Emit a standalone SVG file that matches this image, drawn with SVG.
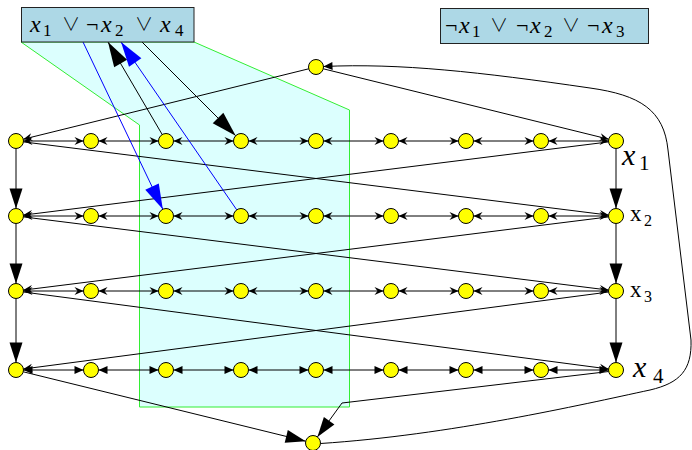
<svg xmlns="http://www.w3.org/2000/svg" width="692" height="450" viewBox="0 0 692 450">
<style>
.e{fill:none;stroke:#000;stroke-width:1}
.ch path{fill:none;stroke:#000;stroke-width:1;marker-start:url(#sm);marker-end:url(#sm)}
.ch4 path{fill:none;stroke:#000;stroke-width:1;marker-start:url(#tri);marker-end:url(#tri)}
.v{fill:none;stroke:#000;stroke-width:1;marker-end:url(#big)}
.x{fill:none;stroke:#000;stroke-width:1;marker-end:url(#sm)}
.b{fill:none;stroke:#00f;stroke-width:1;marker-end:url(#hugeb)}
.k{fill:none;stroke:#000;stroke-width:1;marker-end:url(#huge)}
.n{fill:#ff0;stroke:#000;stroke-width:1}
.box{fill:#add8e6;stroke:#222;stroke-width:1}
text{font-family:"Liberation Serif","DejaVu Serif",serif;fill:#000}
.i{font-style:italic}
.op{font-family:"Noto Sans CJK JP","DejaVu Sans",sans-serif;font-weight:300}
</style>
<defs>
<marker id="sm" markerUnits="userSpaceOnUse" markerWidth="11" markerHeight="10" refX="9" refY="4" orient="auto-start-reverse" overflow="visible"><path d="M0,0 L9,4 L0,8 L3,4 z" fill="#000"/></marker>
<marker id="tri" markerUnits="userSpaceOnUse" markerWidth="10" markerHeight="9" refX="9" refY="4" orient="auto-start-reverse" overflow="visible"><path d="M0,0 L9,4 L0,8 z" fill="#000"/></marker>
<marker id="big" markerUnits="userSpaceOnUse" markerWidth="20" markerHeight="13" refX="20" refY="6.5" orient="auto" overflow="visible"><path d="M0,0 L20,6.5 L0,13 z" fill="#000"/></marker>
<marker id="huge" markerUnits="userSpaceOnUse" markerWidth="25" markerHeight="15" refX="25" refY="7.5" orient="auto" overflow="visible"><path d="M0,0 L25,7.5 L0,15 z" fill="#000"/></marker>
<marker id="hugeb" markerUnits="userSpaceOnUse" markerWidth="25" markerHeight="15" refX="25" refY="7.5" orient="auto" overflow="visible"><path d="M0,0 L25,7.5 L0,15 z" fill="#00f"/></marker>
</defs>
<rect width="692" height="450" fill="#fff"/>
<g id="clause-region">
<polygon points="21,42 139.5,125 139.5,407 349.5,407 349.5,110 194,42" fill="#dcfffe" stroke="#3e3" stroke-width="1"/>
</g>
<g id="connectors">
<g class="ch"><path d="M23.5,141H83.5"/><path d="M98.5,141H158.5"/><path d="M173.5,141H233.5"/><path d="M248.5,141H308.5"/><path d="M323.5,141H383.5"/><path d="M398.5,141H458.5"/><path d="M473.5,141H533.5"/><path d="M548.5,141H608.5"/></g>
<g class="ch"><path d="M23.5,216H83.5"/><path d="M98.5,216H158.5"/><path d="M173.5,216H233.5"/><path d="M248.5,216H308.5"/><path d="M323.5,216H383.5"/><path d="M398.5,216H458.5"/><path d="M473.5,216H533.5"/><path d="M548.5,216H608.5"/></g>
<g class="ch"><path d="M23.5,291H83.5"/><path d="M98.5,291H158.5"/><path d="M173.5,291H233.5"/><path d="M248.5,291H308.5"/><path d="M323.5,291H383.5"/><path d="M398.5,291H458.5"/><path d="M473.5,291H533.5"/><path d="M548.5,291H608.5"/></g>
<g class="ch4"><path d="M23.5,370H83.5"/><path d="M98.5,370H158.5"/><path d="M173.5,370H233.5"/><path d="M248.5,370H308.5"/><path d="M323.5,370H383.5"/><path d="M398.5,370H458.5"/><path d="M473.5,370H533.5"/><path d="M548.5,370H608.5"/></g>
<path class="v" d="M16,148.5V208.5"/>
<path class="v" d="M16,223.5V283.5"/>
<path class="v" d="M16,298.5V362.5"/>
<path class="v" d="M616,148.5V208.5"/>
<path class="v" d="M616,223.5V283.5"/>
<path class="v" d="M616,298.5V362.5"/>
<path class="x" d="M308.7,68.8L23.3,139.2"/>
<path class="x" d="M323.3,68.8L608.7,139.2"/>
<path class="x" d="M608.6,141.9L23.4,215.1"/>
<path class="x" d="M23.4,141.9L608.6,215.1"/>
<path class="x" d="M608.6,216.9L23.4,290.1"/>
<path class="x" d="M23.4,216.9L608.6,290.1"/>
<path class="x" d="M608.6,292L23.4,369"/>
<path class="x" d="M23.4,292L608.6,369"/>
<path class="v" d="M23.3,371.8L305.7,441.2"/>
<path class="v" d="M608.6,371.5L342,403L317.4,436.9"/>
<path class="e" marker-end="url(#tri)" d="M320.5,443.5C450,435 580,405 650,390C680,383 692,370 691,340L668,150C664,110 640,95 590,88C480,72 400,63 323.5,66.5"/>
<path class="k" d="M162.2,134.5L108,42"/>
<path class="b" d="M236.7,209.8L121,42"/>
<path class="k" d="M142,42L235.7,135.7"/>
<path class="b" d="M83,42L162.8,209.2"/>
</g>
<g id="s"><circle class="n" cx="316" cy="67" r="7.5"/></g>
<g id="t"><circle class="n" cx="313" cy="443" r="7.5"/></g>
<g id="row1">
<circle class="n" cx="16" cy="141" r="7.5"/><circle class="n" cx="91" cy="141" r="7.5"/><circle class="n" cx="166" cy="141" r="7.5"/><circle class="n" cx="241" cy="141" r="7.5"/><circle class="n" cx="316" cy="141" r="7.5"/><circle class="n" cx="391" cy="141" r="7.5"/><circle class="n" cx="466" cy="141" r="7.5"/><circle class="n" cx="541" cy="141" r="7.5"/><circle class="n" cx="616" cy="141" r="7.5"/>
</g>
<g id="row2">
<circle class="n" cx="16" cy="216" r="7.5"/><circle class="n" cx="91" cy="216" r="7.5"/><circle class="n" cx="166" cy="216" r="7.5"/><circle class="n" cx="241" cy="216" r="7.5"/><circle class="n" cx="316" cy="216" r="7.5"/><circle class="n" cx="391" cy="216" r="7.5"/><circle class="n" cx="466" cy="216" r="7.5"/><circle class="n" cx="541" cy="216" r="7.5"/><circle class="n" cx="616" cy="216" r="7.5"/>
</g>
<g id="row3">
<circle class="n" cx="16" cy="291" r="7.5"/><circle class="n" cx="91" cy="291" r="7.5"/><circle class="n" cx="166" cy="291" r="7.5"/><circle class="n" cx="241" cy="291" r="7.5"/><circle class="n" cx="316" cy="291" r="7.5"/><circle class="n" cx="391" cy="291" r="7.5"/><circle class="n" cx="466" cy="291" r="7.5"/><circle class="n" cx="541" cy="291" r="7.5"/><circle class="n" cx="616" cy="291" r="7.5"/>
</g>
<g id="row4">
<circle class="n" cx="16" cy="370" r="7.5"/><circle class="n" cx="91" cy="370" r="7.5"/><circle class="n" cx="166" cy="370" r="7.5"/><circle class="n" cx="241" cy="370" r="7.5"/><circle class="n" cx="316" cy="370" r="7.5"/><circle class="n" cx="391" cy="370" r="7.5"/><circle class="n" cx="466" cy="370" r="7.5"/><circle class="n" cx="541" cy="370" r="7.5"/><circle class="n" cx="616" cy="370" r="7.5"/>
</g>
<g id="clause1">
<rect class="box" x="21.5" y="7.5" width="172.5" height="34.5"/>
<text font-size="24"><tspan class="i" x="30" y="32">x</tspan><tspan font-size="17" x="43" y="36">1</tspan><tspan class="op" font-size="18" x="62" y="31">∨</tspan><tspan font-size="22" x="86" y="32">¬</tspan><tspan class="i" x="101" y="32">x</tspan><tspan font-size="17" x="115" y="36">2</tspan><tspan class="op" font-size="18" x="135" y="31">∨</tspan><tspan class="i" x="160" y="32">x</tspan><tspan font-size="17" x="175" y="36">4</tspan></text>
</g>
<g id="clause2">
<rect class="box" x="440.5" y="8.5" width="208" height="35"/>
<text font-size="24"><tspan font-size="22" x="445" y="33">¬</tspan><tspan class="i" x="459" y="33">x</tspan><tspan font-size="17" x="472" y="37">1</tspan><tspan class="op" font-size="18" x="490" y="32">∨</tspan><tspan font-size="22" x="516" y="33">¬</tspan><tspan class="i" x="530" y="33">x</tspan><tspan font-size="17" x="544" y="37">2</tspan><tspan class="op" font-size="18" x="562" y="32">∨</tspan><tspan font-size="22" x="587" y="33">¬</tspan><tspan class="i" x="602" y="33">x</tspan><tspan font-size="17" x="616" y="37">3</tspan></text>
</g>
<g id="labels">
<text font-size="30"><tspan class="i" x="622" y="165">x</tspan><tspan font-size="21" x="639" y="170">1</tspan></text>
<text font-size="23"><tspan x="630" y="221">x</tspan><tspan font-size="16" x="644" y="226">2</tspan></text>
<text font-size="23"><tspan x="630" y="297">x</tspan><tspan font-size="16" x="644" y="302">3</tspan></text>
<text font-size="30"><tspan class="i" x="633" y="377">x</tspan><tspan font-size="21" x="653" y="383">4</tspan></text>
</g>
</svg>
